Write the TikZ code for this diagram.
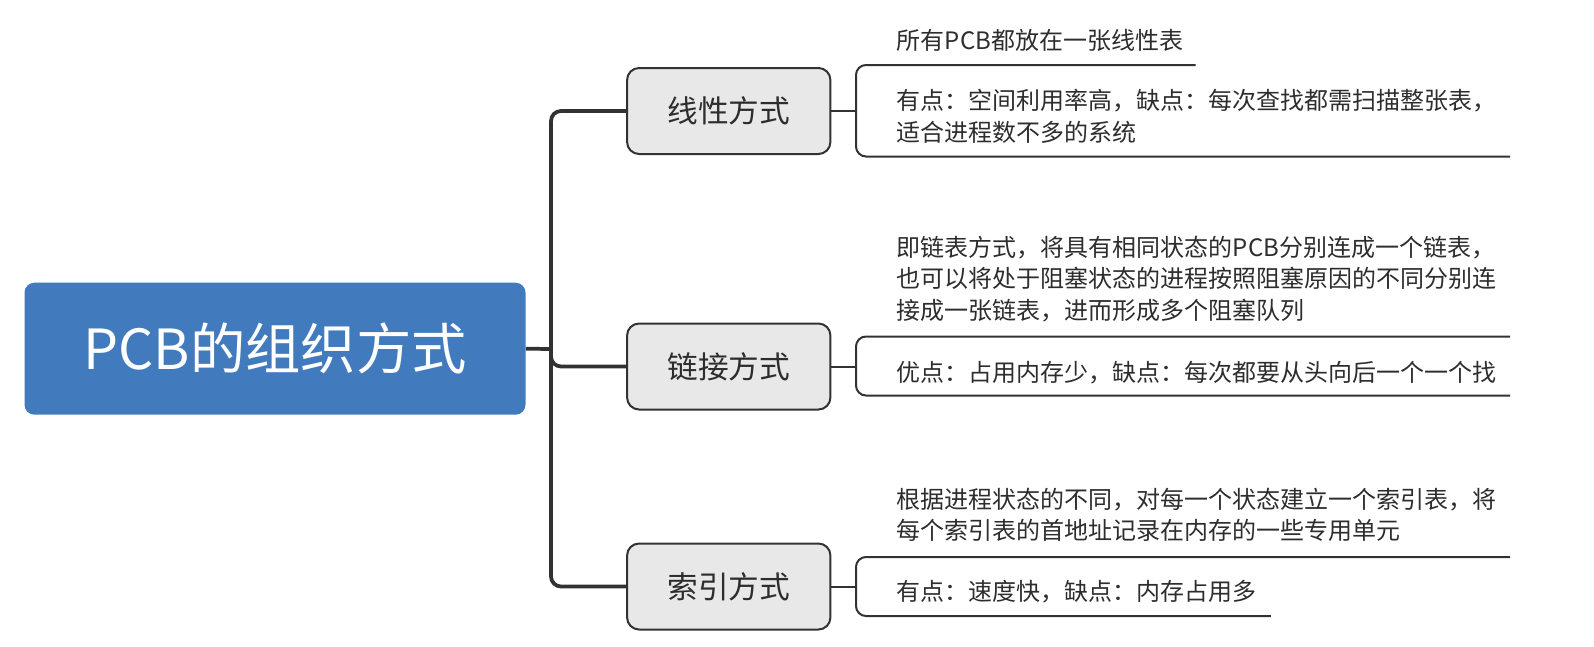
\documentclass[tikz,border=0pt]{standalone}
\usepackage{fontspec}
\setmainfont{Noto Sans CJK SC}
\definecolor{rootblue}{RGB}{65,123,190}
\definecolor{boxgray}{RGB}{232,232,232}
\definecolor{linegray}{RGB}{50,50,50}
\definecolor{textgray}{RGB}{45,45,45}

\begin{document}
\begin{tikzpicture}[x=0.75pt, y=-0.75pt,
    root/.style={rounded corners=7.5pt, fill=rootblue, text=white, minimum width=375.75pt, minimum height=99pt, font=\fontsize{41.5}{48}\selectfont},
    topic/.style={draw=linegray, line width=1.5pt, fill=boxgray, rounded corners=9pt, minimum width=152.5pt, minimum height=64.5pt, text=textgray, font=\fontsize{23}{28}\selectfont},
    leaf/.style={anchor=base west, align=left, inner sep=0pt, text=textgray, font=\fontsize{18}{23.6}\selectfont},
    trunk/.style={draw=linegray, line width=2.8pt, rounded corners=7.5pt},
    bracket/.style={draw=linegray, line width=1.5pt, rounded corners=7.5pt}]
        \useasboundingbox (0,0) rectangle (1594,646);

        % Draw nodes
        \node[root] (pcb) at (275,348.7) {PCB的组织方式};
        \node[topic] (lin) at (728.75,111) {线性方式};
        \node[topic] (lnk) at (728.75,366.5) {链接方式};
        \node[topic] (idx) at (728.75,586.5) {索引方式};

        % Leaves (base = last line)
        \node[leaf] (lin-a) at (896.7,49.7) {所有PCB都放在一张线性表};
        \node[leaf] (lin-b) at (896.7,141.2) {有点：空间利用率高，缺点：每次查找都需扫描整张表，\\适合进程数不多的系统};
        \node[leaf] (lnk-a) at (896.7,319) {即链表方式，将具有相同状态的PCB分别连成一个链表，\\也可以将处于阻塞状态的进程按照阻塞原因的不同分别连\\接成一张链表，进而形成多个阻塞队列};
        \node[leaf] (lnk-b) at (896.7,381) {优点：占用内存少，缺点：每次都要从头向后一个一个找};
        \node[leaf] (idx-a) at (896.7,539.7) {根据进程状态的不同，对每一个状态建立一个索引表，将\\每个索引表的首地址记录在内存的一些专用单元};
        \node[leaf] (idx-b) at (896.7,600.7) {有点：速度快，缺点：内存占用多};

        % Bracket points
        \coordinate (fork) at (551,349);
        \coordinate (lin-brk) at (856,111);
        \coordinate (lin-a-end) at (1195.5,65);
        \coordinate (lin-b-end) at (1510,156.5);
        \coordinate (lnk-brk) at (856,366.5);
        \coordinate (lnk-a-end) at (1510,336.5);
        \coordinate (lnk-b-end) at (1510,395.5);
        \coordinate (idx-brk) at (856,586.5);
        \coordinate (idx-a-end) at (1510,557);
        \coordinate (idx-b-end) at (1270.8,616);

        % Draw connections
        \draw[draw=linegray, line width=2.8pt] (pcb.east) -- (fork);
        \draw[trunk] (fork) |- (lin.west);
        \draw[trunk] (fork) |- (lnk.west);
        \draw[trunk] (fork) |- (idx.west);

        \draw[draw=linegray, line width=1.5pt] (lin.east) -- (lin-brk);
        \draw[draw=linegray, line width=1.5pt] (lnk.east) -- (lnk-brk);
        \draw[draw=linegray, line width=1.5pt] (idx.east) -- (idx-brk);

        \draw[bracket] (lin-a-end) -| (lin-brk) |- (lin-b-end);
        \draw[bracket] (lnk-a-end) -| (lnk-brk) |- (lnk-b-end);
        \draw[bracket] (idx-a-end) -| (idx-brk) |- (idx-b-end);
    \end{tikzpicture}
\end{document}
